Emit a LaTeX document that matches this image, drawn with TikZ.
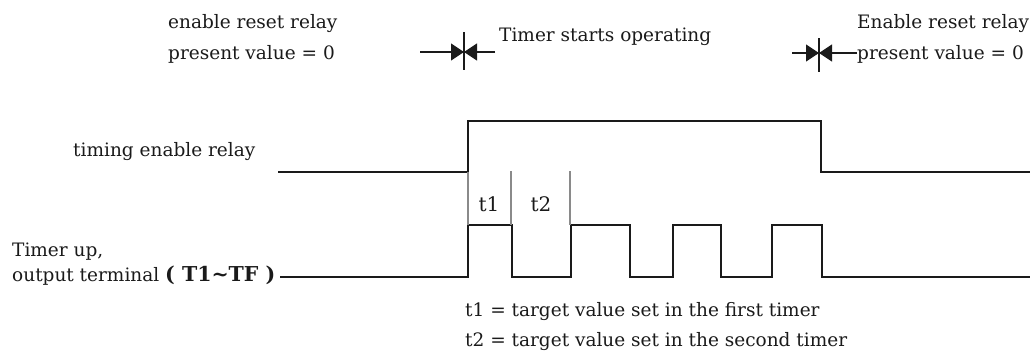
\documentclass[tikz,border=0pt]{standalone}
\usepackage{fontspec}
\setmainfont{DejaVu Serif}
\usepackage{tikz}
\usetikzlibrary{arrows.meta}
\definecolor{ink}{HTML}{1A1A1A}
\definecolor{guide}{HTML}{8A8A8A}

\tikzset{
  lbl/.style={inner sep=0pt,anchor=west,align=left,text=ink,font=\fontsize{18.5}{31}\selectfont},
  wave/.style={draw=ink,line width=2.6pt,line join=miter},
  guideline/.style={draw=guide,line width=1.1pt},
  markline/.style={draw=ink,line width=1.2pt},
  headtip/.style={-{Triangle[length=13pt,width=17pt]}}
}

\begin{document}
\begin{tikzpicture}[x=1pt,y=-1pt]
\useasboundingbox (0,0) rectangle (1030,354);
% headings
\node[lbl] (rstL) at (168,38.5) {enable reset relay\\present value = 0};
\node[lbl] (start) at (499,37) {Timer starts operating};
\node[lbl] (rstR) at (857,38.5) {Enable reset relay\\present value = 0};
% start marker
\coordinate (sa) at (420,52);
\coordinate (sb) at (495,52);
\coordinate (sm) at (464,52);
\draw[markline,headtip] (sa) -- (sm);
\draw[markline,headtip] (sb) -- (sm);
\draw[guideline,draw=ink] (464,32) -- (464,70);
% reset marker
\coordinate (ra) at (792,53);
\coordinate (rb) at (857,53);
\coordinate (rm) at (819,53);
\draw[markline,headtip] (ra) -- (rm);
\draw[markline,headtip] (rb) -- (rm);
\draw[guideline,draw=ink] (819,38) -- (819,72);
% signal names
\node[lbl] (enlbl) at (73,152) {timing enable relay};
\node[lbl,font=\fontsize{18.5}{25}\selectfont] (outlbl) at (12,264) {Timer up,\\output terminal {\fontsize{20.5}{25}\selectfont\bfseries( T1\textasciitilde TF )}};
% waveforms
\draw[wave] (278,172) -- (468,172) -- (468,121) -- (821,121) -- (821,172) -- (1030,172);
\draw[wave] (280,277) -- (468,277) -- (468,225) -- (512,225) -- (512,277)
  -- (571,277) -- (571,225) -- (630,225) -- (630,277)
  -- (673,277) -- (673,225) -- (721,225) -- (721,277)
  -- (772,277) -- (772,225) -- (822,225) -- (822,277) -- (1030,277);
% timer periods
\draw[guideline] (468,172) -- (468,225);
\draw[guideline] (511,171) -- (511,225);
\draw[guideline] (570,171) -- (570,225);
\node[lbl,anchor=center,font=\fontsize{20}{20}\selectfont] (t1) at (489,204) {t1};
\node[lbl,anchor=center,font=\fontsize{20}{20}\selectfont] (t2) at (541,204) {t2};
% legend
\node[lbl,font=\fontsize{18.5}{30}\selectfont] (note) at (465,327) {t1 = target value set in the first timer\\t2 = target value set in the second timer};
\end{tikzpicture}
\end{document}
